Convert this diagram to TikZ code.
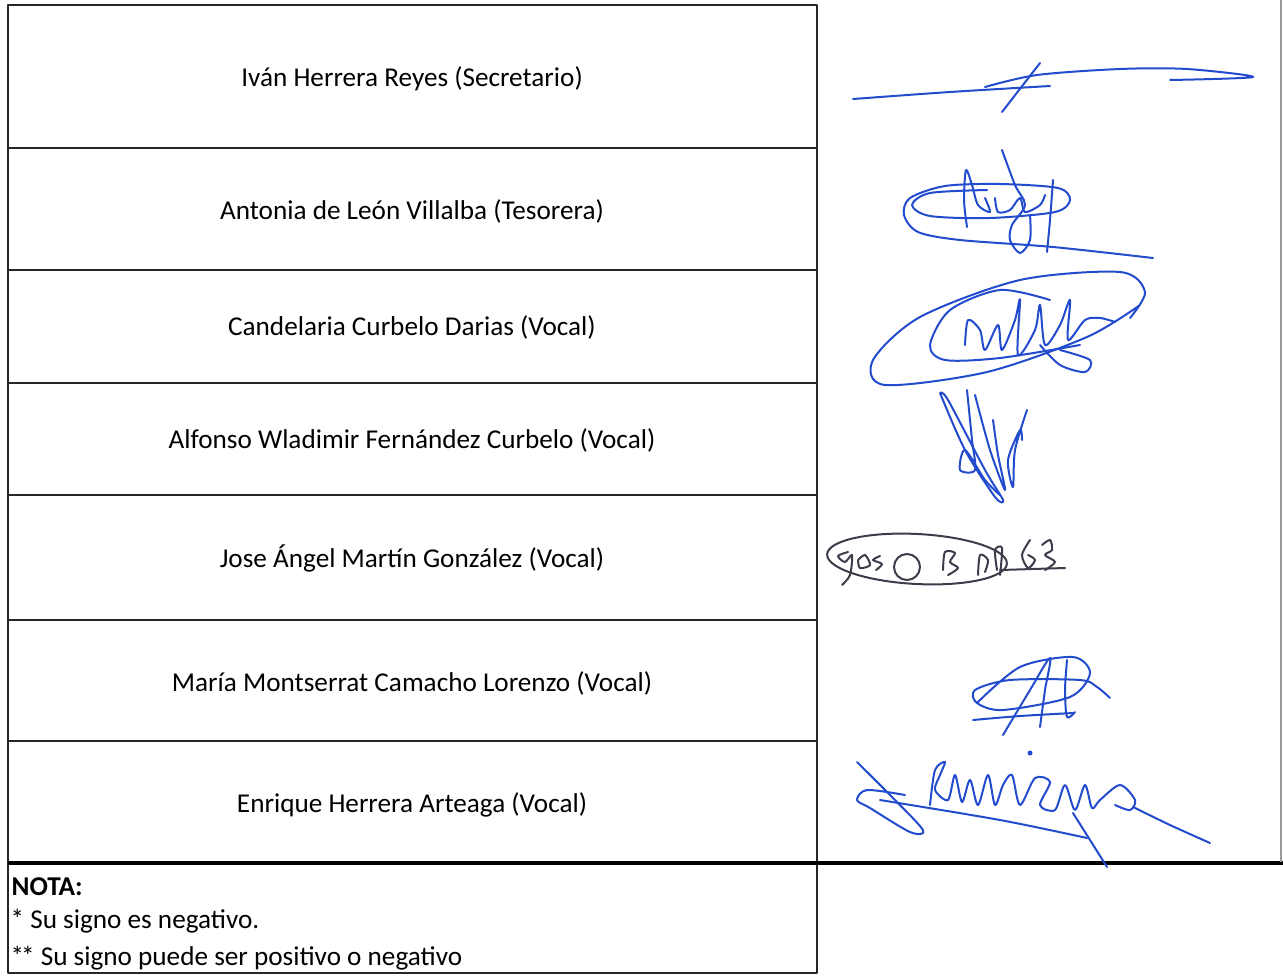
\documentclass[tikz,border=0pt]{standalone}
\usepackage{fontspec}
\setmainfont{Carlito}
\usepackage{tikz}
\usetikzlibrary{positioning}
\definecolor{ink}{RGB}{35,75,205}
\definecolor{pencil}{RGB}{60,60,75}

\begin{document}
\begin{tikzpicture}[x=0.5pt,y=-0.5pt,line join=round,
                    semithick]
  \tikzstyle{every node}=[font=\fontsize{13.6}{16}\selectfont,text=black,inner sep=0pt]
  \tikzstyle{rule}=[line width=1.4pt,black!85]
  \tikzstyle{sign}=[draw=ink,line width=1pt,line cap=round]
  \tikzstyle{jose}=[draw=pencil,line width=1pt,line cap=round]
  \useasboundingbox (0,0) rectangle (1283,975);

  % table
  \draw[rule] (8,5) rectangle (817,973);
  \foreach \y in {148,270,383,495,620,741} \draw[rule] (8,\y) -- (817,\y);
  \draw[line width=2pt] (8,863) -- (1283,863);
  \draw[black!40,line width=.8pt] (1281,0) -- (1281,862);

  \node (R1) at (412,79)  {Iván Herrera Reyes (Secretario)};
  \node (R2) at (412,211) {Antonia de León Villalba (Tesorera)};
  \node (R3) at (412,327) {Candelaria Curbelo Darias (Vocal)};
  \node (R4) at (412,440) {Alfonso Wladimir Fernández Curbelo (Vocal)};
  \node (R5) at (412,558) {Jose Ángel Martín González (Vocal)};
  \node (R6) at (412,683) {María Montserrat Camacho Lorenzo (Vocal)};
  \node (R7) at (412,805) {Enrique Herrera Arteaga (Vocal)};

  \node[anchor=west] (N)  at (11,887) {\bfseries NOTA:};
  \node[anchor=west] (N1) at (10,921) {* Su signo es negativo.};
  \node[anchor=west] (N2) at (10,958) {*\kern-1.5pt* Su signo puede ser positivo o negativo};

  % signatures
  \draw[sign] plot[smooth] coordinates {(853,99) (950,92) (1050,86)};
  \draw[sign] plot[smooth] coordinates {(985,87) (1037,75) (1120,69) (1187,69) (1253,77) (1170,80)};
  \draw[sign] (1002,112) -- (1040,63);

  \draw[sign] plot[smooth] coordinates {(987,190) (930,193) (912,205) (930,216) (990,218) (1055,212)
    (1070,200) (1058,188) (1000,184) (945,186) (910,198) (904,215) (918,232) (960,240) (1053,247) (1153,258)};
  \draw[sign] plot[smooth] coordinates {(967,227) (964,200) (966,170) (972,185) (978,205) (990,212) (985,198)};
  \draw[sign] plot[smooth] coordinates {(1002,150) (1015,185) (1025,205) (1012,225) (1010,240) (1020,253) (1030,240) (1030,215)};
  \draw[sign] plot[smooth] coordinates {(1053,180) (1050,220) (1047,252)};
  \draw[sign] plot[smooth] coordinates {(995,198) (998,212) (1010,210) (1020,198) (1025,212) (1040,205) (1045,195)};

  \draw[sign] plot[smooth] coordinates {(1130,318) (1145,292) (1120,272) (1020,280) (920,317) (873,360)
    (885,385) (987,372) (1087,337) (1140,305)};
  \draw[sign] plot[smooth] coordinates {(1050,300) (1000,290) (950,310) (930,345) (945,360) (1000,358) (1080,345)};
  \draw[sign] plot[smooth] coordinates {(965,345) (968,320) (980,330) (985,350) (998,325) (1002,350) (1015,320)
    (1020,300) (1018,355) (1035,330) (1040,305) (1045,345) (1060,325) (1070,300) (1068,340) (1085,320) (1100,318) (1115,322)};
  \draw[sign] plot[smooth] coordinates {(1040,345) (1060,365) (1085,372) (1090,360) (1060,350)};

  \draw[sign] plot[smooth] coordinates {(940,393) (965,450) (995,497) (1003,500) (985,470) (948,400) (940,393)};
  \draw[sign] plot[smooth] coordinates {(967,390) (972,440) (975,470) (960,470) (965,450) (985,480) (1000,495)};
  \draw[sign] plot[smooth] coordinates {(975,395) (990,450) (1005,490) (998,455) (993,420)};
  \draw[sign] plot[smooth] coordinates {(1027,410) (1015,450) (1013,487) (1008,460) (1020,430) (1022,440)};

  \draw[jose,rotate around={-3:(917,559)}] (917,559) ellipse [x radius=90,y radius=25];
  \draw[jose] plot[smooth] coordinates {(848,552) (838,556) (845,562) (852,555) (850,575) (842,585)};
  \draw[jose] plot[smooth] coordinates {(858,560) (865,555) (870,565) (860,568) (858,560)};
  \draw[jose] plot[smooth] coordinates {(880,556) (873,560) (882,564) (876,570)};
  \draw[jose] (907,567) circle [radius=13];
  \draw[jose] plot[smooth] coordinates {(943,570) (945,552) (955,553) (950,562) (958,568) (948,575)};
  \draw[jose] plot[smooth] coordinates {(978,575) (980,555) (988,560) (985,572)};
  \draw[jose] plot[smooth] coordinates {(997,570) (995,550) (1002,548) (1000,575)};
  \draw[jose] plot[smooth] coordinates {(1030,540) (1022,555) (1028,568) (1035,560) (1028,555)};
  \draw[jose] plot[smooth] coordinates {(1042,545) (1050,540) (1052,550) (1045,555) (1055,562) (1045,570)};
  \draw[jose] (1000,570) -- (1065,568);

  \draw[sign] plot[smooth] coordinates {(977,703) (1020,667) (1073,657) (1090,673) (1070,697) (1003,710) (977,703)
    (975,690) (1010,680) (1080,680) (1097,687) (1110,698)};
  \draw[sign] plot[smooth] coordinates {(973,720) (1020,716) (1073,713)};
  \draw[sign] plot[smooth] coordinates {(1003,735) (1030,690) (1050,658) (1045,690) (1040,727)};
  \draw[sign] plot[smooth] coordinates {(1067,660) (1065,690) (1067,717) (1075,712)};

  \draw[sign] plot[smooth] coordinates {(857,762) (890,795) (923,830) (910,832) (870,808) (857,800) (867,790) (905,795)};
  \draw[sign] plot[smooth] coordinates {(880,800) (1000,820) (1087,838)};
  \draw[sign] plot[smooth] coordinates {(930,805) (935,770) (945,762) (940,775) (935,790) (948,800) (955,775) (962,802)
    (970,780) (978,805) (988,775) (995,805) (1003,785) (1012,775) (1020,805) (1035,778) (1050,782) (1040,805)
    (1055,810) (1065,785) (1075,810) (1085,785) (1092,808) (1100,800) (1120,785) (1135,800) (1130,810) (1115,805)};
  \draw[sign] plot[smooth] coordinates {(1073,813) (1090,840) (1107,867)};
  \draw[sign] plot[smooth] coordinates {(1133,807) (1170,825) (1210,843)};
  \fill[ink] (1030,753) circle [radius=2.5];
\end{tikzpicture}
\end{document}
